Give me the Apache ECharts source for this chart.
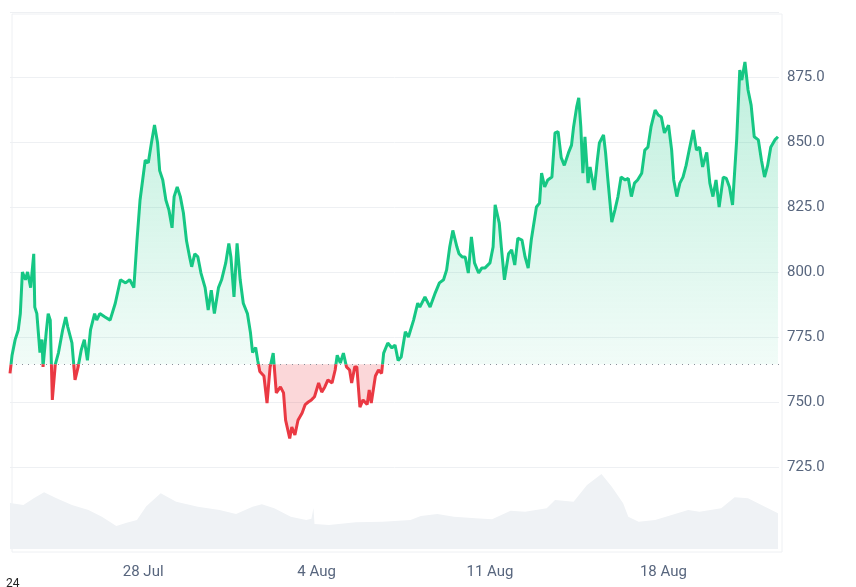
<!DOCTYPE html>
<html><head><meta charset="utf-8">
<script src="https://cdn.jsdelivr.net/npm/echarts@6/dist/echarts.min.js"></script>
<style>html,body{margin:0;padding:0;background:#fff}#c{width:856px;height:587px}</style>
</head><body><div id="c"></div>
<script>
// hours relative to 28 Jul 00:00
const priceHours = [-129,-127,-124,-121,-119,-117,-114,-112,-109,-106,-105,-103,-100,-98,-97,-94,-92,-90,-88,-85,-82,-78,-75,-73,-69,-66,-63,-60,-57,-54,-51,-47,-45,-42,-37,-32,-27,-22,-17,-13,-9,-6,-3,2,5,8,11,14,16,19,22,25,28,30,33,36,39,42,45,47,50,53,56,60,63,66,69,73,76,80,83,85,88,91,94,97,101,104,106,109,111,113,117,120,123,126,129,133,136,138,142,144,147,150,154,157,160,163,166,170,173,176,179,183,186,188,191,194,197,200,202,205,207,210,213,217,219,221,225,228,231,233,237,241,244,247,250,254,257,262,266,268,273,278,283,287,291,294,297,300,304,306,309,312,315,318,321,325,328,331,336,339,341,345,347,350,354,357,360,363,367,370,373,376,381,384,386,389,392,396,399,402,405,408,412,415,417,420,422,424,426,428,431,433,437,440,442,446,448,450,454,457,460,463,467,470,473,476,479,483,486,489,492,496,499,502,505,509,512,514,517,520,523,526,529,533,536,539,542,546,549,552,555,558,562,565,568,571,575,578,580,583,586,589,592,596,599,602,605,608,612,615];
const priceValues = [761,768,774,777.7,784,800,797,800,794,807,786.5,784,769,774,763.5,776.5,784,781.5,750.8,765,769,777.7,782.7,778.8,772.7,758.5,763.5,770,774,766,777.7,784,781.5,784,782.7,781.5,788,797,795.8,797,794,812,827.7,843,842,849.6,856.5,849.6,839,835.4,827.7,823.8,817,829,832.7,829,822.7,812,805.8,802,807,805.8,799.6,794,785.4,793,784,794,797,803.5,811,805.8,790.4,811,797,788,784,776.5,769,771,766,761.7,760,749.6,763.5,768.8,753.5,755.8,753.5,743,736,740.4,737.3,743,745.8,749,750,750.8,752,757.3,753.8,755.8,758.5,757.3,762.3,768,765,768.8,763.5,762.3,757.3,763.5,763.5,748,750.8,749,754.6,749.6,760,762.3,761,768.8,772.7,770.8,771.9,766,767.3,777,775,781.5,788,786.5,790.4,786.5,792,795.8,797,800.8,809.6,816,809.6,807,805.8,805.8,799.6,813.5,803.5,799.6,801.5,801.5,803.5,809.6,825.8,818.8,809.6,797,807,808.5,802.7,813,812.3,805.8,801.5,812.3,825,826.5,838,832.7,835.4,836.5,853.5,854,844,841,845.8,848.8,855.8,863.5,867,855.8,838,852,834.2,840.4,831.5,843,849.6,852.7,845.8,836.5,819.2,823.8,829,836.5,835.4,836,829,834.2,835.4,838,846.9,848,855.8,862.3,860.4,859.6,853.5,856.5,846.9,835.4,829,834.2,836.5,841,846.9,854.6,846.9,848,840.4,846,834.2,829,835.4,825,836.5,836,832.7,825.8,850.8,877.7,873.8,880.8,870,864.2,852,850.8,843,836.5,841,848,850.8,852,846.9];
const baseline = 764.5;
const volumeHours = [-129,-116,-106,-96,-84,-69,-53,-40,-26,-16,-6,3,17,32,53,74,90,106,115,127,143,158,163,165,166,180,206,232,259,269,285,301,322,338,356,370,391,399,417,430,444,454,465,470,480,496,512,528,539,560,573,586,599,615];
const volumeValues = [46,44,50.7,56.7,50.7,44,39,32.3,23,26.3,29,42.7,55.7,47.3,42.3,39,35,42.3,44.7,40.7,32.3,29,30.3,41,25,24,26.7,27.3,29,33,35,32.3,30.7,29.7,38.3,37.3,40.7,49,47.3,64,75,62.3,45.7,32.3,27.3,29,34,39,37.3,40.7,51.7,50.7,44,35.7];
const dateTicks = [0,168,336,504];
const dateLabels = {0:'28 Jul',168:'4 Aug',336:'11 Aug',504:'18 Aug'};

// split the line where it crosses the baseline so each side can take its colour
const pts = [];
for (let i=0;i<priceHours.length;i++){
  if (i>0){
    const a=priceValues[i-1], b=priceValues[i];
    if ((a-baseline)*(b-baseline)<0){
      const t=(baseline-a)/(b-a);
      pts.push([priceHours[i-1]+t*(priceHours[i]-priceHours[i-1]), baseline]);
    }
  }
  pts.push([priceHours[i], priceValues[i]]);
}
const upLine = pts.map(p=>p[1]>=baseline?p:[p[0],null]);
const dnLine = pts.map(p=>p[1]<=baseline?p:[p[0],null]);
const upFill = pts.map(p=>[p[0],Math.max(p[1],baseline)]);
const dnFill = pts.map(p=>[p[0],Math.min(p[1],baseline)]);
const vol = volumeHours.map((h,i)=>[h,volumeValues[i]]);
const xMin=-129, xMax=616;
const G='#16c784', R='#ea3943';
const chart = echarts.init(document.getElementById('c'));
chart.setOption({
  animation:false,
  grid:[
    {left:10,right:77,top:12,height:520},
    {left:10,right:77,top:469,height:80}
  ],
  xAxis:[
    {type:'value',gridIndex:0,min:xMin,max:xMax,show:false},
    {type:'value',gridIndex:1,min:xMin,max:xMax,axisLine:{show:false},axisTick:{show:false},splitLine:{show:false},
      axisLabel:{customValues:dateTicks,formatter:v=>dateLabels[v]||'',color:'#58667e',fontSize:15,fontFamily:'Roboto',margin:16}}
  ],
  yAxis:[
    {type:'value',gridIndex:0,position:'right',min:700,max:900,interval:25,
      axisLine:{show:false},axisTick:{show:false},
      axisLabel:{formatter:v=>(v>=725&&v<=875)?v.toFixed(1):'',color:'#58667e',fontSize:15,fontFamily:'Roboto',margin:8},
      splitLine:{lineStyle:{color:['transparent','#eef0f3','#eef0f3','#eef0f3','#eef0f3','#eef0f3','#eef0f3','#eef0f3','#eef0f3']}}},
    {type:'value',gridIndex:1,min:0,max:80,show:false}
  ],
  series:[
    {type:'line',xAxisIndex:1,yAxisIndex:1,data:vol,symbol:'none',lineStyle:{width:0},areaStyle:{color:'#eff2f5',opacity:1},z:1},
    {type:'line',data:upFill,symbol:'none',lineStyle:{width:0},z:2,
      areaStyle:{origin:baseline,opacity:1,color:new echarts.graphic.LinearGradient(0,60,0,365,[{offset:0,color:'rgba(22,199,132,0.28)'},{offset:1,color:'rgba(22,199,132,0.06)'}],true)},
      markLine:{silent:true,symbol:'none',label:{show:false},lineStyle:{color:'#8a8f99',type:[1,5],width:1.2},data:[{yAxis:baseline}]}},
    {type:'line',data:dnFill,symbol:'none',lineStyle:{width:0},z:2,
      areaStyle:{origin:baseline,opacity:1,color:'rgba(234,57,67,0.2)'}},
    {type:'line',data:upLine,symbol:'none',connectNulls:false,lineStyle:{width:3,color:G},itemStyle:{color:G},z:4},
    {type:'line',data:dnLine,symbol:'none',connectNulls:false,lineStyle:{width:3,color:R},itemStyle:{color:R},z:4}
  ],
  graphic:[
    {type:'rect',left:9.5,top:11.5,shape:{width:770,height:538},style:{fill:'none',stroke:'#eef0f3',lineWidth:1},z:0,silent:true},
    {type:'text',left:6,top:578,style:{text:'24',fill:'#222',font:'12px Roboto'}}
  ]
});
</script></body></html>
